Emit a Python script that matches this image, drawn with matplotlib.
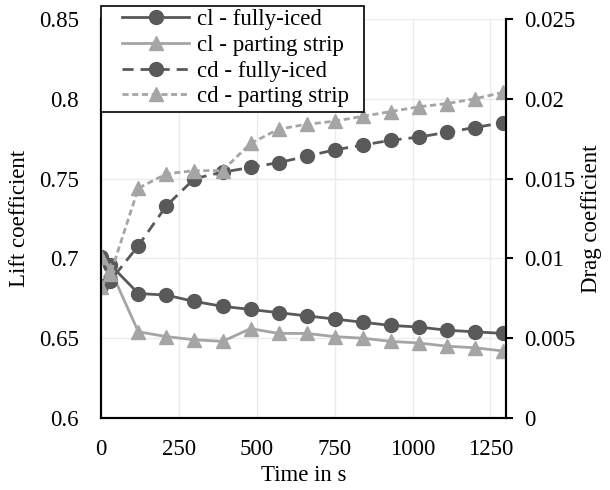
import matplotlib.pyplot as plt
from matplotlib.patches import Rectangle
from matplotlib.ticker import FuncFormatter, MultipleLocator

plt.rcParams['font.family'] = ['Liberation Serif', 'DejaVu Serif']
plt.rcParams['font.size'] = 16.5

# time steps and coefficients
time_s = [0, 30, 120, 210, 300, 390, 480, 570, 660, 750, 840, 930, 1020, 1110, 1200, 1290]
cl_fully = [0.701, 0.696, 0.678, 0.677, 0.673, 0.670, 0.668, 0.666, 0.664, 0.662,
            0.660, 0.658, 0.657, 0.655, 0.654, 0.653]
cl_strip = [0.701, 0.693, 0.654, 0.651, 0.649, 0.648, 0.656, 0.653, 0.653, 0.651,
            0.650, 0.648, 0.647, 0.645, 0.644, 0.642]
cd_fully = [0.0083, 0.0086, 0.0108, 0.0133, 0.0150, 0.0154, 0.0157, 0.0160, 0.0164, 0.0168,
            0.0171, 0.0174, 0.0176, 0.0179, 0.0182, 0.0185]
cd_strip = [0.0082, 0.0090, 0.0144, 0.0153, 0.0155, 0.0155, 0.0172, 0.0181, 0.0184, 0.0186,
            0.0189, 0.0192, 0.0195, 0.0197, 0.0200, 0.0204]
labels = ['cl - fully-iced', 'cl - parting strip', 'cd - fully-iced', 'cd - parting strip']

dark = '#595959'
light = '#a5a5a5'

fig = plt.figure(figsize=(6.1, 4.9), dpi=100)
W, H = 610, 490
ax = fig.add_axes([101 / W, 1 - 418 / H, (506 - 101) / W, (418 - 19) / H])
ax2 = ax.twinx()

l1, = ax.plot(time_s, cl_fully, '-', color=dark, lw=2, marker='o', ms=10, zorder=3)
l2, = ax.plot(time_s, cl_strip, '-', color=light, lw=2, marker='^', ms=10.5, zorder=3)
l3, = ax2.plot(time_s, cd_fully, color=dark, lw=2, ls=(0, (4, 2.5)), marker='o', ms=10)
l4, = ax2.plot(time_s, cd_strip, color=light, lw=2, ls=(0, (2.2, 1.3)), marker='^', ms=10.5)

ax.set_xlim(0, 1300)
ax.set_ylim(0.6, 0.85)
ax2.set_ylim(0, 0.025)
ax.xaxis.set_major_locator(MultipleLocator(250))
ax.yaxis.set_major_locator(MultipleLocator(0.05))
ax2.yaxis.set_major_locator(MultipleLocator(0.005))
fmt = FuncFormatter(lambda v, p: f'{v:.4g}' if abs(v) > 1e-12 else '0')
ax.yaxis.set_major_formatter(fmt)
ax2.yaxis.set_major_formatter(fmt)

ax.grid(True, color='#ebebeb', lw=1)
ax.set_axisbelow(True)
for a in (ax, ax2):
    a.spines['top'].set_visible(False)
    for s in a.spines.values():
        s.set_linewidth(1.5)
ax.tick_params(axis='both', length=0)
ax.tick_params(axis='y', pad=16)
ax.tick_params(axis='x', pad=15)
ax2.tick_params(axis='y', length=5, width=1.5, pad=8)

ax.set_xlabel('Time in s', va='center')
ax.xaxis.set_label_coords(0.5, -0.145)
ax.set_ylabel('Lift coefficient', va='center', ha='center')
ax.yaxis.set_label_coords(-0.2, 0.5)
ax2.set_ylabel('Drag coefficient', va='center', ha='center')
ax2.yaxis.set_label_coords(1.21, 0.5)

# legend box sticking out above the plot area
fig.patches.append(Rectangle((101 / W, 1 - 112.5 / H), (364 - 101) / W, (112.5 - 6) / H,
                             transform=fig.transFigure, fc='white', ec='black', lw=1.2, zorder=4))
fig.legend([l1, l2, l3, l4], labels, loc='upper left',
           bbox_to_anchor=(119 / W, 1 - 6 / H), bbox_transform=fig.transFigure,
           frameon=False, borderpad=0.15, borderaxespad=0, labelspacing=0.2,
           handlelength=2.9, handletextpad=0.35)

fig.savefig('out.png', dpi=100)
